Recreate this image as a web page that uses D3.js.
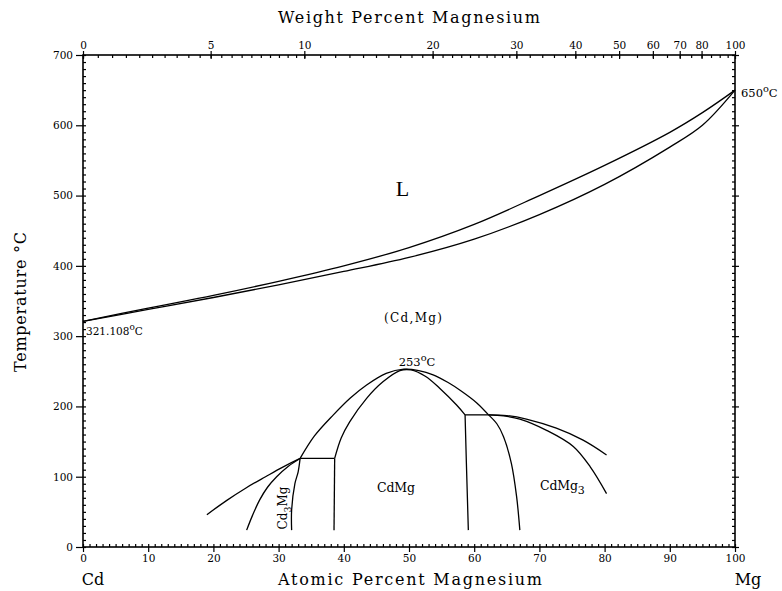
<!DOCTYPE html>
<html><head><meta charset="utf-8">
<script src="https://cdn.jsdelivr.net/npm/d3@7"></script>
<style>body{margin:0;background:#fff} svg{display:block}</style>
</head><body><svg id="c" width="782" height="591"></svg>
<script>
// ---- data ----
const atTicks = [0,10,20,30,40,50,60,70,80,90,100];
const tempTicks = [0,100,200,300,400,500,600,700];
const wtTicks = [0,5,10,20,30,40,50,60,70,80,100];
const wtLabels = ["0","5","10","20","30","40","50","60","70","80","100"];

const liquidus = [[0,321.1],[10,340],[20,358],[30,378],[40,400],[50,426],[60,459],[70,500],[80,543],[90,590],[95,618],[100,650]];
const solidus  = [[0,321.1],[10,338],[20,355],[30,373],[40,392],[50,412],[60,438],[70,473],[80,516],[90,569],[95,600],[100,650]];
const outerDome = [[33.3,126],[35.5,158],[38.4,188],[41,212],[43.5,230.5],[46.5,247],[49.2,253],[51.5,251],[53.7,245],[56,234],[58,222],[60.4,205],[62.2,188]];
const innerDome = [[38.6,126],[39.6,155],[40.9,178],[43.5,211.5],[46,235],[48.6,251],[50.3,252],[52.5,243],[54.7,226],[57.3,202],[58.6,188]];
const cd3MgOuter = [[19.0,46],[22,66],[25,84],[28,100],[30.5,113],[33.3,126]];
const cd3MgLeft  = [[25.1,24],[26,45],[27.1,67],[28.3,85],[29.7,100],[31.5,115],[33.3,126]];
const cd3MgRight = [[32.0,24],[32.0,53],[32.5,90],[33.0,107],[33.3,126]];
const line125 = [[33.3,126],[38.6,126]];
const cdMgLeft = [[38.6,126],[38.5,24]];
const cdMgRight = [[58.6,188],[58.8,120],[59.1,24]];
const line188 = [[58.6,188],[62.2,188]];
const cdMg3Left = [[62.2,188],[63.5,175],[64.5,157],[65.7,119],[66.5,72],[67.0,24]];
const upperRight = [[62.2,188],[65,187],[68,182],[72.6,169],[76.7,152],[80.3,131]];
const lowerRight = [[62.2,188],[64.5,186.5],[67,182],[71.1,166],[75.2,143],[77.8,114],[80.3,76]];

// ---- setup ----
const svg = d3.select("#c");
const x = d3.scaleLinear().domain([0,100]).range([83,735]);
const y = d3.scaleLinear().domain([0,700]).range([547,55]);
const MCd = 112.41, MMg = 24.305;
const wtToAt = w => { const a = w/MMg, b = (100-w)/MCd; return 100*a/(a+b); };
const serif = "'DejaVu Serif', 'Liberation Serif', serif";

function styleAxis(g){ g.select(".domain").remove(); g.selectAll("line").attr("stroke","#000").attr("stroke-width",1.2);
  g.selectAll("text").attr("font-family",serif).attr("font-size",10.5).attr("fill","#000"); }

// frame
svg.append("rect").attr("x",x(0)).attr("y",y(700)).attr("width",x(100)-x(0)).attr("height",y(0)-y(700))
  .attr("fill","none").attr("stroke","#000").attr("stroke-width",1.6);

// left axis
svg.append("g").attr("transform",`translate(${x(0)},0)`).call(d3.axisLeft(y).tickValues(d3.range(0,701,10)).tickSize(-3).tickFormat("")).call(styleAxis);
svg.append("g").attr("transform",`translate(${x(0)},0)`).call(d3.axisLeft(y).tickValues(tempTicks).tickSize(7).tickPadding(3).tickFormat(d3.format("d"))).call(styleAxis);
// right axis
svg.append("g").attr("transform",`translate(${x(100)},0)`).call(d3.axisRight(y).tickValues(d3.range(0,701,10)).tickSize(-3).tickFormat("")).call(styleAxis);
svg.append("g").attr("transform",`translate(${x(100)},0)`).call(d3.axisRight(y).tickValues(tempTicks).tickSize(4).tickFormat("")).call(styleAxis);
// bottom axis
svg.append("g").attr("transform",`translate(0,${y(0)})`).call(d3.axisBottom(x).tickValues(d3.range(0,101,1)).tickSize(-3).tickFormat("")).call(styleAxis);
svg.append("g").attr("transform",`translate(0,${y(0)})`).call(d3.axisBottom(x).tickValues(atTicks).tickSize(5).tickPadding(3).tickFormat(d3.format("d"))).call(styleAxis);
// top axis (weight percent)
const wtMinor = d3.range(0,10,0.5).concat(d3.range(10,30,1), d3.range(30,50,2), d3.range(50,100,5));
svg.append("g").attr("transform",`translate(0,${y(700)})`).call(d3.axisTop(x).tickValues(wtMinor.map(wtToAt)).tickSize(-3).tickFormat("")).call(styleAxis);
svg.append("g").attr("transform",`translate(0,${y(700)})`).call(d3.axisTop(x).tickValues(wtTicks.map(wtToAt)).tickSize(4).tickPadding(2).tickFormat((d,i)=>wtLabels[i])).call(styleAxis);
svg.append("g").attr("transform",`translate(0,${y(700)})`).call(d3.axisTop(x).tickValues(wtTicks.map(wtToAt)).tickSize(-4).tickFormat("")).call(styleAxis);

// curves
const smooth = d3.line().x(d=>x(d[0])).y(d=>y(d[1])).curve(d3.curveCatmullRom.alpha(0.5));
const straight = d3.line().x(d=>x(d[0])).y(d=>y(d[1]));
[liquidus, solidus, outerDome, innerDome, cd3MgOuter, cd3MgLeft, cd3MgRight, cdMg3Left, upperRight, lowerRight].forEach(c=>{
  svg.append("path").attr("d",smooth(c)).attr("fill","none").attr("stroke","#000").attr("stroke-width",1.3);
});
[line125, cdMgLeft, cdMgRight, line188].forEach(c=>{
  svg.append("path").attr("d",straight(c)).attr("fill","none").attr("stroke","#000").attr("stroke-width",1.3);
});

// titles
svg.append("text").attr("x",409).attr("y",23).attr("text-anchor","middle").attr("font-family",serif).attr("font-size",16)
  .attr("textLength",262).attr("lengthAdjust","spacing").text("Weight Percent Magnesium");
svg.append("text").attr("x",410).attr("y",585).attr("text-anchor","middle").attr("font-family",serif).attr("font-size",16)
  .attr("textLength",264).attr("lengthAdjust","spacing").text("Atomic Percent Magnesium");
svg.append("text").attr("x",93).attr("y",585).attr("text-anchor","middle").attr("font-family",serif).attr("font-size",16).text("Cd");
svg.append("text").attr("x",748).attr("y",585).attr("text-anchor","middle").attr("font-family",serif).attr("font-size",16).text("Mg");
svg.append("text").attr("transform","translate(26,302) rotate(-90)").attr("text-anchor","middle").attr("font-family",serif).attr("font-size",16)
  .attr("textLength",140).attr("lengthAdjust","spacing").text("Temperature °C");

// labels
function degLabel(px,py,num,anchor,size){
  const t = svg.append("text").attr("x",px).attr("y",py).attr("text-anchor",anchor).attr("font-family",serif).attr("font-size",size);
  t.append("tspan").text(num);
  t.append("tspan").attr("dy",-5).attr("font-size",size*0.85).text("o");
  t.append("tspan").attr("dy",5).text("C");
}
degLabel(86,335,"321.108","start",10.5);
degLabel(741,97,"650","start",11.5);
degLabel(417,366,"253","middle",11.5);
svg.append("text").attr("x",x(49)).attr("y",196).attr("text-anchor","middle").attr("font-family","'Liberation Serif', serif").attr("font-size",22).text("L");
svg.append("text").attr("x",413).attr("y",322).attr("text-anchor","middle").attr("font-family",serif).attr("font-size",12)
  .attr("textLength",58).attr("lengthAdjust","spacing").text("(Cd,Mg)");
svg.append("text").attr("x",396).attr("y",492).attr("text-anchor","middle").attr("font-family",serif).attr("font-size",12.5)
  .attr("textLength",38).attr("lengthAdjust","spacing").text("CdMg");
const t3 = svg.append("text").attr("x",540).attr("y",490).attr("font-family",serif).attr("font-size",12.5);
t3.append("tspan").attr("textLength",38).attr("lengthAdjust","spacing").text("CdMg"); t3.append("tspan").attr("dy",4).attr("font-size",11).text("3");
const t4 = svg.append("text").attr("transform","translate(287,508) rotate(-90)").attr("text-anchor","middle").attr("font-family",serif).attr("font-size",12);
t4.append("tspan").text("Cd"); t4.append("tspan").attr("dy",4).attr("font-size",9.5).text("3"); t4.append("tspan").attr("dy",-4).text("Mg");
</script></body></html>
